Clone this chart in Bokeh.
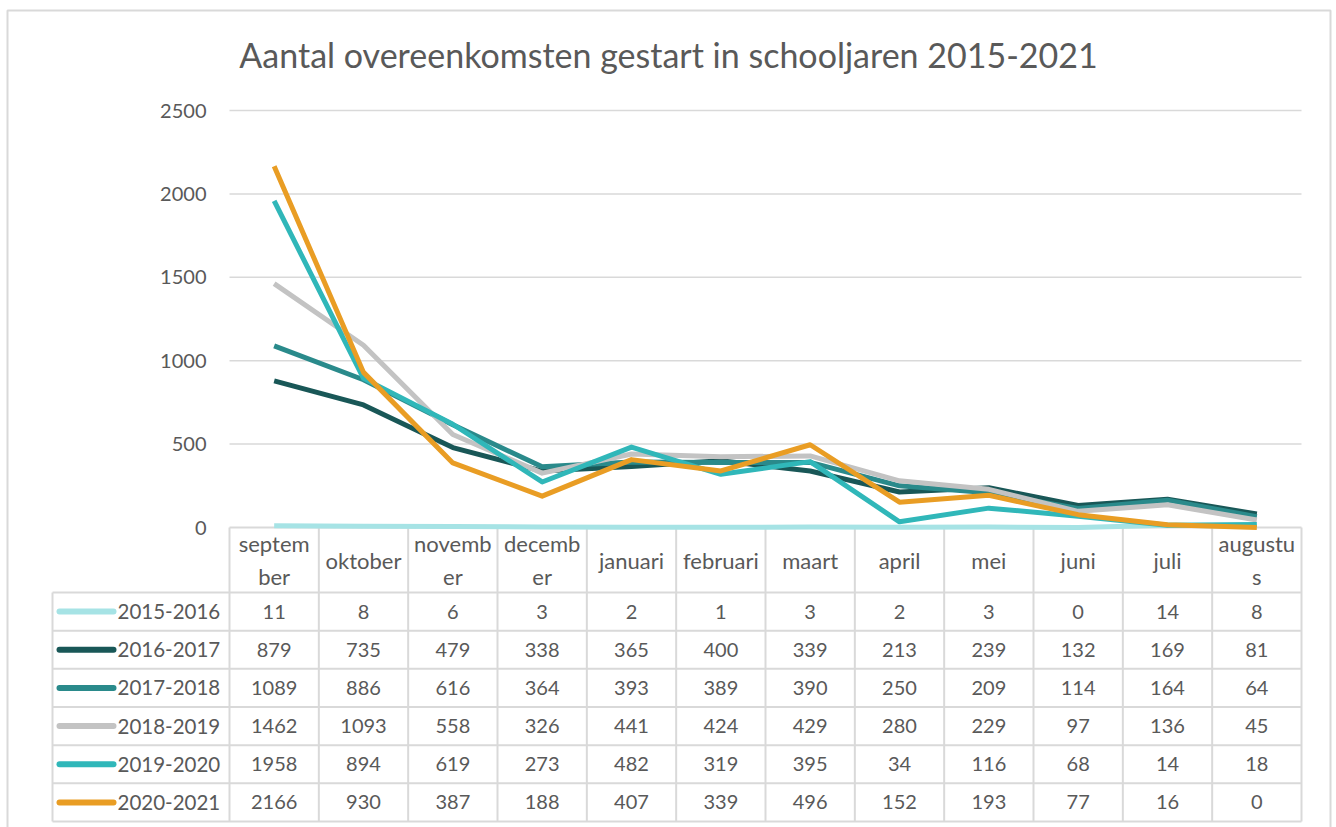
from bokeh.plotting import figure
from bokeh.models import Range1d
from bokeh.core.properties import value
from bokeh.embed import file_html
from bokeh.resources import INLINE

# ---------------- data ----------------
months = ["septem\nber", "oktober", "novemb\ner", "decemb\ner", "januari", "februari",
          "maart", "april", "mei", "juni", "juli", "augustu\ns"]
series_names = ["2015-2016", "2016-2017", "2017-2018", "2018-2019", "2019-2020", "2020-2021"]
s2015 = [11, 8, 6, 3, 2, 1, 3, 2, 3, 0, 14, 8]
s2016 = [879, 735, 479, 338, 365, 400, 339, 213, 239, 132, 169, 81]
s2017 = [1089, 886, 616, 364, 393, 389, 390, 250, 209, 114, 164, 64]
s2018 = [1462, 1093, 558, 326, 441, 424, 429, 280, 229, 97, 136, 45]
s2019 = [1958, 894, 619, 273, 482, 319, 395, 34, 116, 68, 14, 18]
s2020 = [2166, 930, 387, 188, 407, 339, 496, 152, 193, 77, 16, 0]
y_ticks = [0, 500, 1000, 1500, 2000, 2500]
title_text = "Aantal overeenkomsten gestart in schooljaren 2015-2021"

series = [s2015, s2016, s2017, s2018, s2019, s2020]
colors = ["#a6e3e5", "#195757", "#2a8a8b", "#c3c3c3", "#30b7b9", "#e99d24"]

# ---------------- layout (canvas pixels) ----------------
W, H = 1336, 827
PLOT_L, PLOT_R = 229, 1301
COL_W = (PLOT_R - PLOT_L) / len(months)
Y0_PX, YTOP_PX = 527, 110
YMAX = 2500
HEADER_H = 65
TABLE_L = 52
TABLE_B = 821
ROW_H = (TABLE_B - (Y0_PX + HEADER_H)) / len(series)
FONT = "Lato"
TXT = "#595959"
GRID = "#d9d9d9"

scale = YMAX / (Y0_PX - YTOP_PX)
p = figure(width=W, height=H, output_backend="svg", toolbar_location=None,
           x_axis_type=None, y_axis_type=None, min_border=0,
           x_range=Range1d(-PLOT_L / COL_W, (W - PLOT_L) / COL_W),
           y_range=Range1d(-(H - Y0_PX) * scale, Y0_PX * scale))
p.extra_x_ranges = {"px": Range1d(0, W)}
p.extra_y_ranges = {"py": Range1d(H, 0)}
p.xgrid.visible = False
p.ygrid.visible = False
p.outline_line_color = None
p.background_fill_color = "white"
p.border_fill_color = "white"

# outer chart border
p.quad(left=[7], right=[1330], top=[10], bottom=[H + 20], x_range_name="px", y_range_name="py",
       fill_color=None, line_color=GRID, line_width=2)

# title
p.text(x=[668], y=[54], text=[title_text], x_range_name="px", y_range_name="py",
       text_font=value(FONT), text_font_size="34px", text_color=TXT,
       text_align="center", text_baseline="middle")

# gridlines (in data units for y)
p.segment(x0=[PLOT_L] * (len(y_ticks) - 1), x1=[PLOT_R] * (len(y_ticks) - 1),
          y0=y_ticks[1:], y1=y_ticks[1:], x_range_name="px",
          line_color=GRID, line_width=1.5)
# y tick labels
p.text(x=[206] * len(y_ticks), y=y_ticks, text=[str(t) for t in y_ticks], x_range_name="px",
       text_font=value(FONT), text_font_size="20px", text_color=TXT,
       text_align="right", text_baseline="middle")

# table grid
row_tops = [Y0_PX + HEADER_H + k * ROW_H for k in range(len(series) + 1)]
p.segment(x0=[PLOT_L], x1=[PLOT_R], y0=[Y0_PX], y1=[Y0_PX], x_range_name="px",
          y_range_name="py", line_color=GRID, line_width=2)
p.segment(x0=[TABLE_L] * len(row_tops), x1=[PLOT_R] * len(row_tops), y0=row_tops, y1=row_tops,
          x_range_name="px", y_range_name="py", line_color=GRID, line_width=2)
vx = [PLOT_L + k * COL_W for k in range(len(months) + 1)]
p.segment(x0=vx, x1=vx, y0=[Y0_PX] * len(vx), y1=[row_tops[-1]] * len(vx),
          x_range_name="px", y_range_name="py", line_color=GRID, line_width=2)
p.segment(x0=[TABLE_L], x1=[TABLE_L], y0=[row_tops[0]], y1=[row_tops[-1]],
          x_range_name="px", y_range_name="py", line_color=GRID, line_width=2)

# month headers
centers = [i + 0.5 for i in range(len(months))]
p.text(x=centers, y=[Y0_PX + HEADER_H / 2] * len(months), text=months, y_range_name="py",
       text_font=value(FONT), text_font_size="22px", text_color=TXT,
       text_align="center", text_baseline="middle", text_line_height=1.2)

# lines + table rows
for k, (name, vals, col) in enumerate(zip(series_names, series, colors)):
    p.line(x=centers, y=vals, line_color=col, line_width=5, line_join="round")
    yc = row_tops[k] + ROW_H / 2
    p.segment(x0=[TABLE_L + 7], x1=[TABLE_L + 61], y0=[yc], y1=[yc], x_range_name="px",
              y_range_name="py", line_color=col, line_width=6, line_cap="round")
    p.text(x=[TABLE_L + 65], y=[yc], text=[name], x_range_name="px", y_range_name="py",
           text_font=value(FONT), text_font_size="20.5px", text_color=TXT,
           text_align="left", text_baseline="middle")
    p.text(x=centers, y=[yc] * len(vals), text=[str(v) for v in vals], y_range_name="py",
           text_font=value(FONT), text_font_size="20px", text_color=TXT,
           text_align="center", text_baseline="middle")

open("out.html", "w").write(file_html(p, INLINE))
